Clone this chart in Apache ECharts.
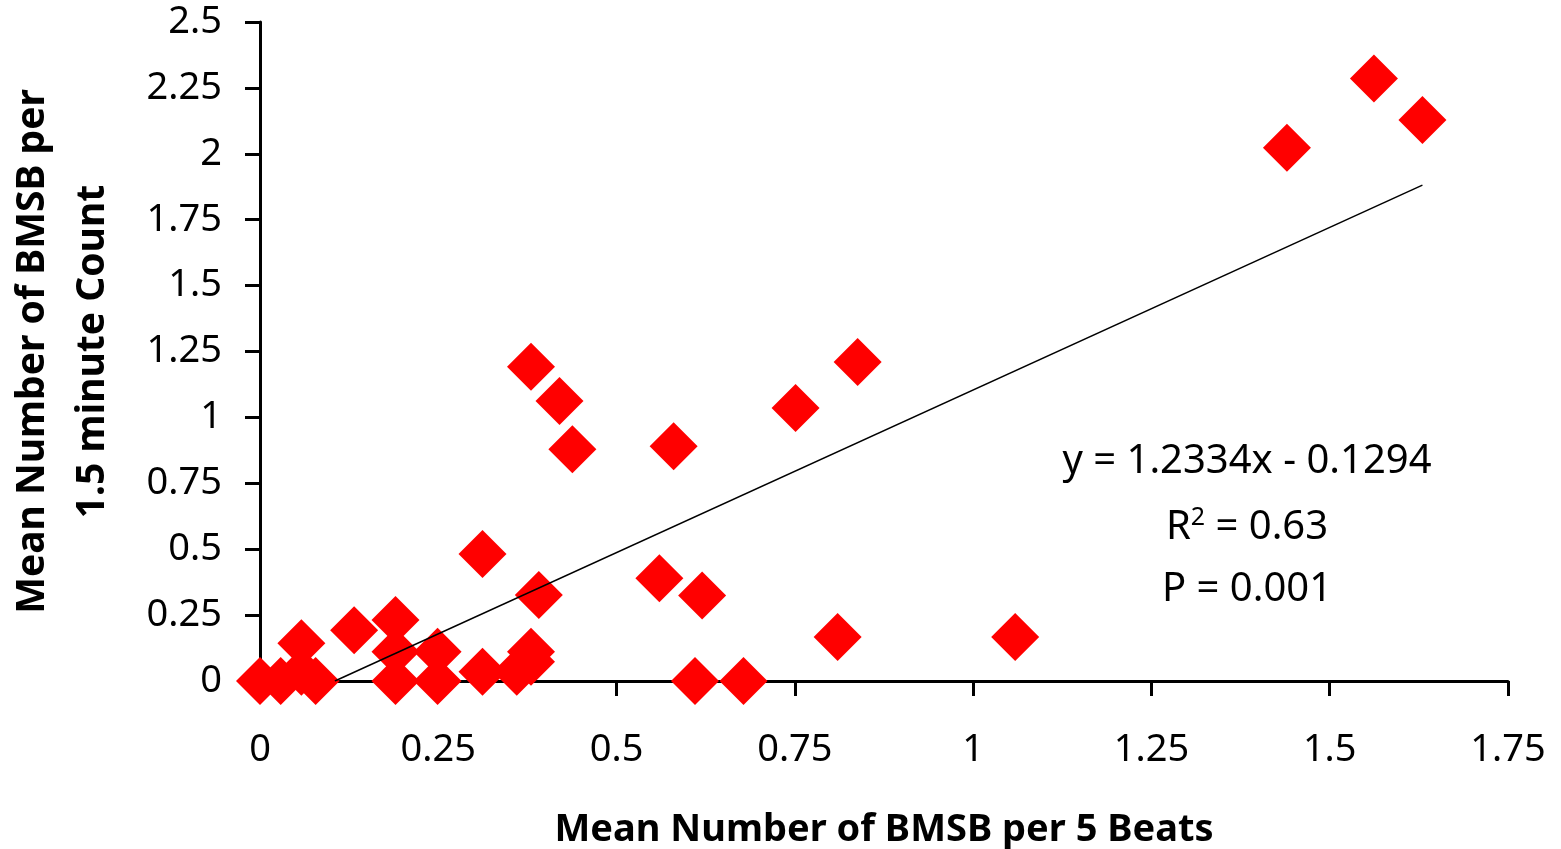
<!DOCTYPE html>
<html>
<head>
<meta charset="utf-8">
<script src="https://cdn.jsdelivr.net/npm/echarts@6/dist/echarts.min.js"></script>
<style>
html, body { margin: 0; padding: 0; background: #fff; }
#main { width: 1561px; height: 849px; }
</style>
</head>
<body>
<div id="main"></div>
<script>
// points: [beats, count]
var beats = [0, 0.029, 0.058, 0.058, 0.078, 0.132, 0.19, 0.19, 0.19, 0.249, 0.249,
    0.312, 0.312, 0.36, 0.38, 0.38, 0.391, 0.38, 0.42, 0.438, 0.56, 0.58, 0.62,
    0.61, 0.678, 0.751, 0.81, 0.838, 1.059, 1.44, 1.562, 1.63];
var counts = [0, 0, 0.143, 0.035, 0, 0.193, 0.231, 0.111, 0, 0.111, 0,
    0.482, 0.035, 0.035, 0.111, 0.073, 0.326, 1.192, 1.062, 0.879, 0.39, 0.891, 0.324,
    0, 0, 1.036, 0.167, 1.21, 0.167, 2.023, 2.286, 2.128];
// trend line ends as drawn
var trendX = [0.105, 1.63];
var trendY = [0, 1.881];

var font = 'Noto Sans';
var points = [];
for (var i = 0; i < beats.length; i++) {
    points.push([beats[i], counts[i]]);
}
var trend = [];
for (var j = 0; j < trendX.length; j++) {
    trend.push([trendX[j], trendY[j]]);
}

var chart = echarts.init(document.getElementById('main'));
chart.setOption({
    animation: false,
    grid: { left: 260, right: 53, top: 22, bottom: 168, outerBoundsMode: 'none' },
    xAxis: {
        type: 'value',
        min: 0, max: 1.75, interval: 0.25,
        name: 'Mean Number of BMSB per 5 Beats',
        nameLocation: 'middle',
        nameGap: 130,
        nameTextStyle: { fontFamily: font, fontWeight: 'bold', fontSize: 38, color: '#000' },
        axisLine: { lineStyle: { color: '#000', width: 3 } },
        axisTick: { length: 15, lineStyle: { color: '#000', width: 3 } },
        axisLabel: { fontFamily: font, fontSize: 38, color: '#000', margin: 50 },
        splitLine: { show: false }
    },
    yAxis: {
        type: 'value',
        min: 0, max: 2.5, interval: 0.25,
        name: 'Mean Number of BMSB per\n1.5 minute Count',
        nameLocation: 'middle',
        nameGap: 137,
        nameTextStyle: { fontFamily: font, fontWeight: 'bold', fontSize: 39, color: '#000', lineHeight: 60 },
        axisLine: { lineStyle: { color: '#000', width: 3 } },
        axisTick: { length: 15, lineStyle: { color: '#000', width: 3 } },
        axisLabel: { fontFamily: font, fontSize: 38, color: '#000', margin: 38 },
        splitLine: { show: false }
    },
    graphic: [
        {
            type: 'text', x: 1247, y: 462,
            style: { text: 'y = 1.2334x - 0.1294', font: '40px "Noto Sans"', fill: '#000', align: 'center', verticalAlign: 'middle' }
        },
        {
            type: 'text', x: 1247, y: 528,
            style: {
                text: '{a|R}{s|2}{a| = 0.63}',
                align: 'center', verticalAlign: 'middle',
                rich: {
                    a: { fontFamily: font, fontSize: 40, color: '#000' },
                    s: { fontFamily: font, fontSize: 25, color: '#000', verticalAlign: 'top', padding: [0, 0, 20, 0] }
                }
            }
        },
        {
            type: 'text', x: 1247, y: 590,
            style: { text: 'P = 0.001', font: '40px "Noto Sans"', fill: '#000', align: 'center', verticalAlign: 'middle' }
        }
    ],
    series: [
        {
            type: 'scatter',
            data: points,
            symbol: 'diamond',
            symbolSize: 48,
            itemStyle: { color: '#ff0000', opacity: 1 },
            clip: false,
            z: 2
        },
        {
            type: 'line',
            data: trend,
            symbol: 'none',
            lineStyle: { color: '#000', width: 1.5 },
            z: 3
        }
    ]
});
</script>
</body>
</html>
